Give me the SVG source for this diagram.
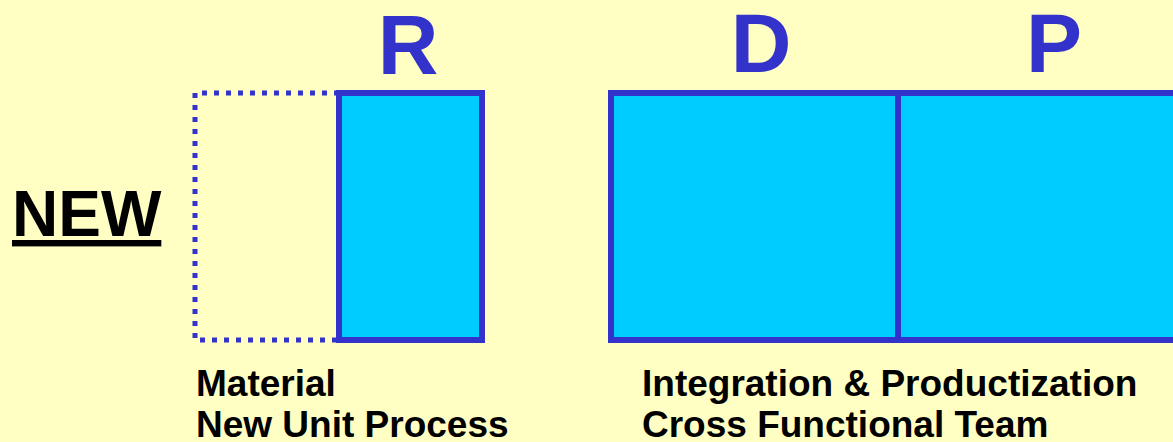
<svg xmlns="http://www.w3.org/2000/svg" width="1173" height="442" viewBox="0 0 1173 442">
  <style>
    .box { fill: #00CCFF; stroke: #3333CC; stroke-width: 6; }
    .ghost { fill: none; stroke: #3333CC; stroke-width: 5; stroke-dasharray: 5 7; }
    .letter { font-family: "Liberation Sans", Arial, sans-serif; font-weight: bold; font-size: 84px; fill: #3333CC; text-anchor: middle; }
    .caption { font-family: "Liberation Sans", Arial, sans-serif; font-weight: bold; font-size: 37px; fill: #000000; }
    .tag { font-family: "Liberation Sans", Arial, sans-serif; font-weight: bold; font-size: 64px; fill: #000000; text-decoration: underline; }
  </style>

  <!-- background -->
  <rect x="0" y="0" width="1173" height="442" fill="#FFFFC4"/>

  <!-- row label -->
  <g id="label-new">
    <text class="tag" x="12" y="236">NEW</text>
  </g>

  <!-- research: dotted placeholder plus filled block -->
  <g id="node-r">
    <path class="ghost" d="M339 93 H195 V340 H339"/>
    <rect class="box" x="339" y="93" width="143" height="247"/>
    <text class="letter" x="408" y="74">R</text>
    <text class="caption" x="196" y="396">Material</text>
    <text class="caption" x="196" y="437">New Unit Process</text>
  </g>

  <!-- development block -->
  <g id="node-d">
    <rect class="box" x="611" y="93" width="287" height="247"/>
    <text class="letter" x="761" y="72">D</text>
  </g>

  <!-- production block, running off the right edge -->
  <g id="node-p">
    <rect class="box" x="898" y="93" width="320" height="247"/>
    <text class="letter" x="1054" y="72">P</text>
  </g>

  <!-- shared caption under D and P -->
  <g id="dp-caption">
    <text class="caption" x="642" y="396">Integration &amp; Productization</text>
    <text class="caption" x="642" y="437">Cross Functional Team</text>
  </g>

  <g id="connectors"/>
</svg>
